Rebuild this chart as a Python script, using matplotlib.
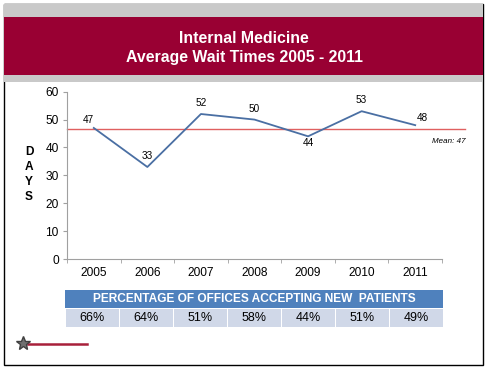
import numpy as np
from matplotlib import pyplot as plt
from matplotlib.patches import Rectangle
from matplotlib.lines import Line2D

years = ['2005', '2006', '2007', '2008', '2009', '2010', '2011']
wait_days = [47, 33, 52, 50, 44, 53, 48]
pct_accepting = ['66%', '64%', '51%', '58%', '44%', '51%', '49%']
table_title = 'PERCENTAGE OF OFFICES ACCEPTING NEW  PATIENTS'

plt.rcParams['font.family'] = ['Liberation Sans', 'DejaVu Sans']

W, H = 488, 369
fig = plt.figure(figsize=(W / 100, H / 100), dpi=100)


def fx(px):
    return px / W


def fy(py):
    return 1 - py / H


def rect(x0, y0, x1, y1, **kw):
    # rectangle in pixel coords (top-left origin)
    r = Rectangle((fx(x0), fy(y1)), fx(x1) - fx(x0), fy(y0) - fy(y1),
                  transform=fig.transFigure, **kw)
    fig.add_artist(r)
    return r


# slide frame and title banner
rect(3.5, 3.5, 483, 364.5, facecolor='white', edgecolor='black', lw=1.0, zorder=0)
rect(4, 4, 482.5, 17.5, facecolor='#c9c9c9', edgecolor='none', zorder=1)
rect(4, 17.5, 482.5, 75, facecolor='#990033', edgecolor='none', zorder=1)
rect(4, 75, 482.5, 81.5, facecolor='#c9c9c9', edgecolor='none', zorder=1)
fig.text(0.5, fy(38.5), 'Internal Medicine', color='white', fontsize=11.4,
         fontweight='bold', ha='center', va='center')
fig.text(0.5, fy(57.5), 'Average Wait Times 2005 - 2011', color='white', fontsize=11.4,
         fontweight='bold', ha='center', va='center')

# main chart
ax = fig.add_axes([fx(67), fy(259), fx(442) - fx(67), fy(91.7) - fy(259)])
ax.set_facecolor('none')
x = np.arange(len(years))
ax.plot(x, wait_days, color='#4a6fa3', lw=1.3, zorder=3)
ax.set_xlim(-0.5, len(years) - 0.5)
ax.set_ylim(0, 60)
ax.set_yticks(range(0, 61, 10))
ax.set_xticks(x)
ax.set_xticklabels(years)
ax.set_xticks(np.arange(-0.5, len(years), 1), minor=True)
ax.tick_params(axis='x', which='major', length=0, labelsize=8.6, pad=6)
ax.tick_params(axis='x', which='minor', length=3, color='#a0a0a0', direction='out')
ax.tick_params(axis='y', length=3, color='#a0a0a0', labelsize=8.6, pad=3)
for s in ['top', 'right']:
    ax.spines[s].set_visible(False)
for s in ['left', 'bottom']:
    ax.spines[s].set_color('#a0a0a0')
    ax.spines[s].set_linewidth(0.8)

# data labels
offsets = [(-4, 6), (0, 8), (0, 8), (0, 7.5), (0, -4.5), (0, 8), (5, 5)]
for xi, v, (dx, dy) in zip(x, wait_days, offsets):
    ax.annotate(str(v), (xi, v), xytext=(dx, dy), textcoords='offset points',
                ha='center', va='center', fontsize=7.2)

# mean line extends past the plot area
mean = np.mean(wait_days)
ax.plot([-0.5, 6.92], [mean, mean], color='#e06060', lw=1.0, clip_on=False, zorder=2)
ax.text(6.95, mean - 4.5, f'Mean: {round(mean)}', fontsize=5.8, style='italic',
        ha='right', va='center')

# stacked y label
for i, ch in enumerate('DAYS'):
    fig.text(fx(29), fy(152 + i * 15), ch, fontsize=8.6, fontweight='bold',
             ha='center', va='center')

# percentage table
tx0, tx1 = 65, 443
rect(tx0, 290, tx1, 308, facecolor='#4f81bd', edgecolor='none')
fig.text(fx((tx0 + tx1) / 2), fy(299.5), table_title, color='white', fontsize=8.6,
         fontweight='bold', ha='center', va='center')
cw = (tx1 - tx0) / len(pct_accepting)
for i, p in enumerate(pct_accepting):
    cx0 = tx0 + i * cw
    rect(cx0 + 0.5, 309, cx0 + cw - 0.5, 327, facecolor='#d0d8e8', edgecolor='none')
    fig.text(fx(cx0 + cw / 2), fy(318), p, fontsize=9, ha='center', va='center')

# small logo
fig.add_artist(Line2D([fx(28), fx(87)], [fy(344), fy(344)], color='#a8203a', lw=1.8,
                      transform=fig.transFigure))
fig.add_artist(Line2D([fx(23)], [fy(343)], marker='*', markersize=10, color='#707070',
                      markeredgecolor='#404040', transform=fig.transFigure))

fig.savefig('out.png', dpi=100)
